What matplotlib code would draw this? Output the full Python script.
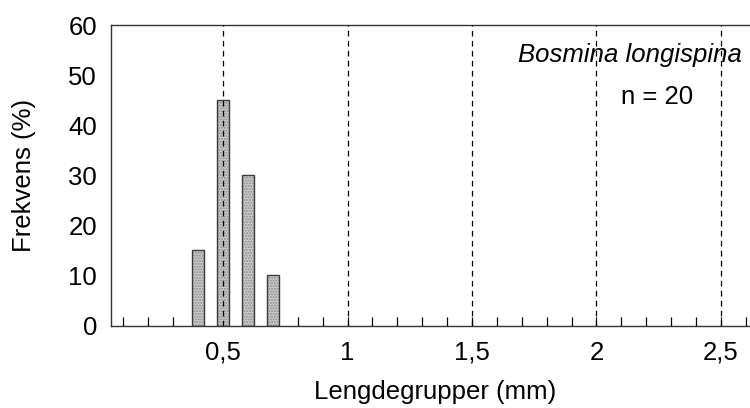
import matplotlib
matplotlib.use("Agg")
import matplotlib.pyplot as plt
import numpy as np

# Data
lengths = [0.4, 0.5, 0.6, 0.7]
freq = [15, 45, 30, 10]
ref_lines = [0.5, 1.0, 1.5, 2.0, 2.5]
tick_pos = [round(0.1 * i, 1) for i in range(1, 27)]
tick_labels = {0.5: "0,5", 1.0: "1", 1.5: "1,5", 2.0: "2", 2.5: "2,5"}
species = "Bosmina longispina"
n_text = "n = 20"

plt.rcParams['font.family'] = ['Liberation Sans', 'DejaVu Sans']
FS = 18.5

fig = plt.figure(figsize=(7.5, 4.08), dpi=100)
ax = fig.add_axes([0.148, 0.2022, 0.8631, 0.7365])
ax.set_xlim(0.05, 2.65)
ax.set_ylim(0, 60)

# bars: hatched fill then outline
ax.bar(lengths, freq, width=0.05, color='#cccccc', edgecolor='#8a8a8a',
       hatch='......', linewidth=0, zorder=2)
ax.bar(lengths, freq, width=0.05, fill=False, edgecolor='#3a3a3a',
       linewidth=1.0, zorder=3)

for x in ref_lines:
    ax.axvline(x, color='black', lw=0.9, dashes=(4.5, 3.5), zorder=4)

ax.set_xticks(tick_pos)
ax.set_xticklabels([tick_labels.get(t, "") for t in tick_pos])
ax.set_yticks([0, 10, 20, 30, 40, 50, 60])
ax.tick_params(axis='x', direction='in', length=6.5, width=0.9, pad=11,
               labelsize=FS, colors='black')
ax.tick_params(axis='y', length=0, pad=10, labelsize=FS)

for s in ['left', 'bottom', 'top']:
    ax.spines[s].set_linewidth(1.0)
    ax.spines[s].set_color('#333333')
ax.spines['right'].set_visible(False)

ax.set_xlabel("Lengdegrupper (mm)", fontsize=FS, va='center')
ax.xaxis.set_label_coords(0.501, -0.222)
ax.set_ylabel("Frekvens (%)", fontsize=FS, va='center')
ax.yaxis.set_label_coords(-0.134, 0.5)

ax.text(2.584, 54, species, fontsize=FS, style='italic', ha='right', va='center')
ax.text(2.243, 45.7, n_text, fontsize=FS, ha='center', va='center')

fig.savefig("out.png", dpi=100)
